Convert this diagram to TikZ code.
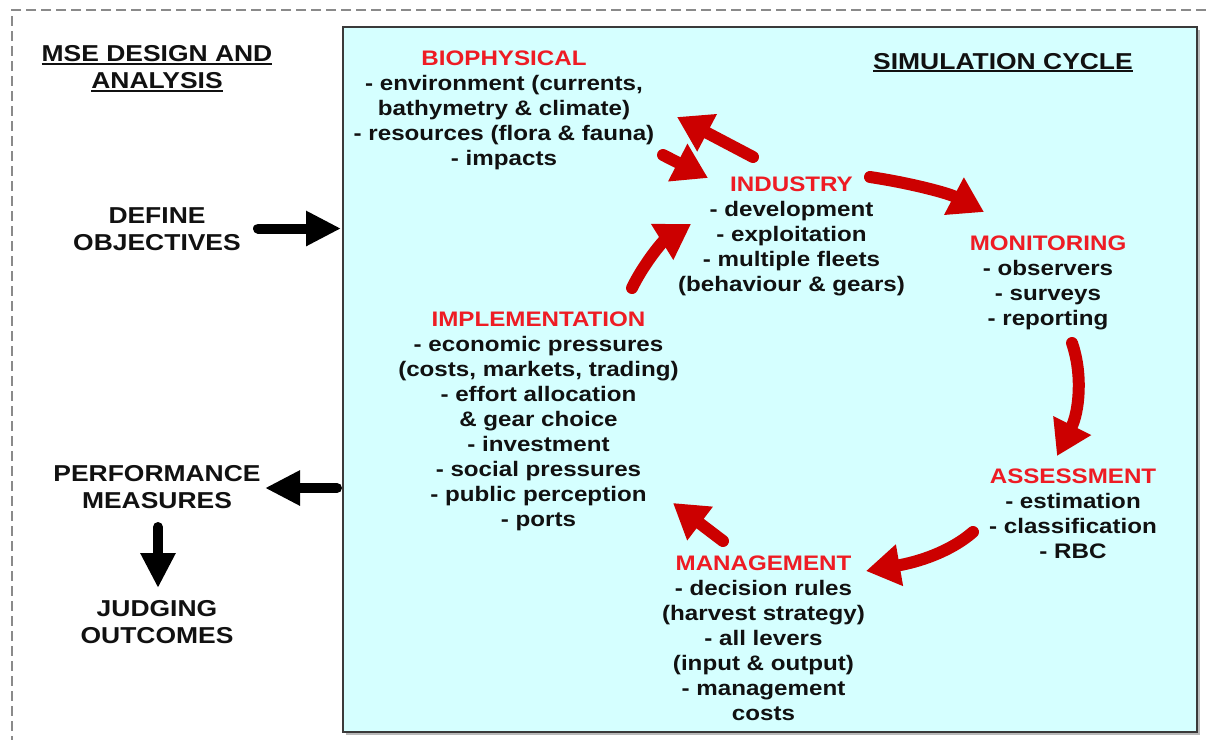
\documentclass[tikz,border=0pt]{standalone}
\usepackage{fontspec}
\setmainfont{Liberation Sans}[FakeStretch=1.15]
\usetikzlibrary{arrows.meta}
\definecolor{cyanbg}{HTML}{D5FFFF}
\definecolor{tred}{HTML}{EE1C24}
\definecolor{ared}{HTML}{CC0000}
\definecolor{txt}{HTML}{111111}
\definecolor{dashgray}{HTML}{8A8A8A}
\definecolor{boxgray}{HTML}{3A3A3A}
\newcommand\myul[1]{\setbox0\hbox{#1}\rlap{\rule[-3pt]{\wd0}{1.6pt}}\box0}
\begin{document}
\begin{tikzpicture}[x=1pt,y=-1pt,
  body/.style={align=center, inner sep=0pt, anchor=north, text=txt,
    font=\fontsize{21}{25}\selectfont\bfseries},
  head/.style={align=center, inner sep=0pt, anchor=north, text=txt,
    font=\fontsize{23}{27}\selectfont\bfseries},
  redarrow/.style={draw=ared, line width=12pt, line cap=round,
    -{Triangle[length=34pt,width=40pt]}},
  blackarrow/.style={draw=black, line width=10pt, line cap=round,
    -{Triangle[length=35pt,width=33pt]}}]
\useasboundingbox (0,0) rectangle (1206,740);
% outer dashed frame
\draw[dashgray, line width=1.8pt, dash pattern=on 10pt off 5pt] (1206,10) -- (12,10) -- (12,740);
% simulation box with shadow
\fill[gray!55] (345.5,29.5) rectangle (1199.5,734.5);
\node[draw=boxgray, line width=1.6pt, fill=cyanbg, minimum width=854pt, minimum height=705pt, inner sep=0pt] (sim) at (770,379.5) {};

% left texts
\node[head] (mse) at (157,42.4) {\strut\myul{MSE DESIGN AND}\\\myul{ANALYSIS}};
\node[head] (simc) at (1003,49.9) {\strut\myul{SIMULATION CYCLE}};
\node[head] (def) at (157,203.9) {\strut DEFINE\\OBJECTIVES};
\node[head] (perf) at (157,462.4) {\strut PERFORMANCE\\MEASURES};
\node[head] (judg) at (157,596.9) {\strut JUDGING\\OUTCOMES};

% cycle texts
\node[body] (bio) at (504,47.5) {\strut\textcolor{tred}{BIOPHYSICAL}\\- environment (currents,\\bathymetry \& climate)\\- resources (flora \& fauna)\\- impacts};
\node[body] (ind) at (791.5,174) {\strut\textcolor{tred}{INDUSTRY}\\- development\\- exploitation\\- multiple fleets\\(behaviour \& gears)};
\node[body] (mon) at (1048,232.5) {\strut\textcolor{tred}{MONITORING}\\- observers\\- surveys\\- reporting};
\node[body] (ass) at (1073,465.5) {\strut\textcolor{tred}{ASSESSMENT}\\- estimation\\- classification\\- RBC};
\node[body] (man) at (763.5,552.5) {\strut\textcolor{tred}{MANAGEMENT}\\- decision rules\\(harvest strategy)\\- all levers\\(input \& output)\\- management\\costs};
\node[body] (imp) at (538.5,309) {\strut\textcolor{tred}{IMPLEMENTATION}\\- economic pressures\\(costs, markets, trading)\\- effort allocation\\\& gear choice\\- investment\\- social pressures\\- public perception\\- ports};

% arrow end points
\coordinate (a1s) at (753,157); \coordinate (a1e) at (677,117);
\coordinate (a2s) at (663,155); \coordinate (a2e) at (708,178);
\coordinate (a3s) at (870,177); \coordinate (a3e) at (984,212);
\coordinate (a4s) at (1072,343); \coordinate (a4e) at (1057,456);
\coordinate (a5s) at (973,532); \coordinate (a5e) at (866,571);
\coordinate (a6s) at (723,541); \coordinate (a6e) at (673,503);
\coordinate (a7s) at (632,288); \coordinate (a7e) at (691,224);
\coordinate (b1s) at (258,228.5); \coordinate (b1e) at (341,228.5);
\coordinate (b2s) at (337,488); \coordinate (b2e) at (265,488);
\coordinate (b3s) at (158,527); \coordinate (b3e) at (158,588);

% red cycle arrows
\draw[redarrow] (a1s) -- (a1e);
\draw[redarrow] (a2s) -- (a2e);
\draw[redarrow] (a3s) .. controls (910,183) and (948,193) .. (a3e);
\draw[redarrow] (a4s) .. controls (1083,375) and (1079,412) .. (a4e);
\draw[redarrow] (a5s) .. controls (950,552) and (918,562) .. (a5e);
\draw[redarrow] (a6s) -- (a6e);
\draw[redarrow] (a7s) .. controls (643,265) and (662,242) .. (a7e);

% black arrows
\draw[blackarrow] (b1s) -- (b1e);
\draw[blackarrow] (b2s) -- (b2e);
\draw[blackarrow] (b3s) -- (b3e);
\end{tikzpicture}
\end{document}
